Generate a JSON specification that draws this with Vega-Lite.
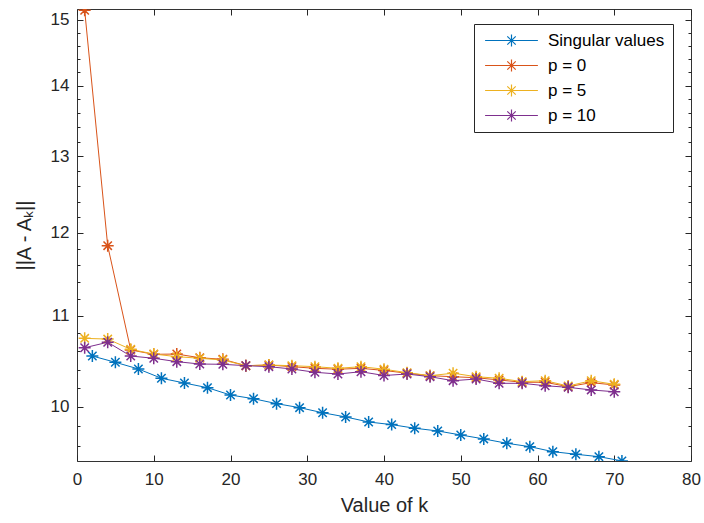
{
  "$schema": "https://vega.github.io/schema/vega-lite/v6.json",
  "width": 614,
  "height": 452,
  "autosize": "none",
  "padding": {"left": 77, "top": 9, "right": 13, "bottom": 62},
  "background": "white",
  "data": {
    "values": [
      {"k": 2, "v": 10.548, "s": "Singular values"},
      {"k": 5, "v": 10.479, "s": "Singular values"},
      {"k": 8, "v": 10.406, "s": "Singular values"},
      {"k": 11, "v": 10.305, "s": "Singular values"},
      {"k": 14, "v": 10.254, "s": "Singular values"},
      {"k": 17, "v": 10.204, "s": "Singular values"},
      {"k": 20, "v": 10.126, "s": "Singular values"},
      {"k": 23, "v": 10.087, "s": "Singular values"},
      {"k": 26, "v": 10.035, "s": "Singular values"},
      {"k": 29, "v": 9.993, "s": "Singular values"},
      {"k": 32, "v": 9.94, "s": "Singular values"},
      {"k": 35, "v": 9.896, "s": "Singular values"},
      {"k": 38, "v": 9.844, "s": "Singular values"},
      {"k": 41, "v": 9.817, "s": "Singular values"},
      {"k": 44, "v": 9.78, "s": "Singular values"},
      {"k": 47, "v": 9.752, "s": "Singular values"},
      {"k": 50, "v": 9.711, "s": "Singular values"},
      {"k": 53, "v": 9.671, "s": "Singular values"},
      {"k": 56, "v": 9.627, "s": "Singular values"},
      {"k": 59, "v": 9.593, "s": "Singular values"},
      {"k": 62, "v": 9.543, "s": "Singular values"},
      {"k": 65, "v": 9.517, "s": "Singular values"},
      {"k": 68, "v": 9.493, "s": "Singular values"},
      {"k": 71, "v": 9.451, "s": "Singular values"},
      {"k": 1, "v": 15.15, "s": "p = 0"},
      {"k": 4, "v": 11.84, "s": "p = 0"},
      {"k": 7, "v": 10.615, "s": "p = 0"},
      {"k": 10, "v": 10.567, "s": "p = 0"},
      {"k": 13, "v": 10.57, "s": "p = 0"},
      {"k": 16, "v": 10.529, "s": "p = 0"},
      {"k": 19, "v": 10.512, "s": "p = 0"},
      {"k": 22, "v": 10.442, "s": "p = 0"},
      {"k": 25, "v": 10.449, "s": "p = 0"},
      {"k": 28, "v": 10.431, "s": "p = 0"},
      {"k": 31, "v": 10.413, "s": "p = 0"},
      {"k": 34, "v": 10.403, "s": "p = 0"},
      {"k": 37, "v": 10.413, "s": "p = 0"},
      {"k": 40, "v": 10.39, "s": "p = 0"},
      {"k": 43, "v": 10.36, "s": "p = 0"},
      {"k": 46, "v": 10.333, "s": "p = 0"},
      {"k": 49, "v": 10.322, "s": "p = 0"},
      {"k": 52, "v": 10.311, "s": "p = 0"},
      {"k": 55, "v": 10.287, "s": "p = 0"},
      {"k": 58, "v": 10.262, "s": "p = 0"},
      {"k": 61, "v": 10.262, "s": "p = 0"},
      {"k": 64, "v": 10.215, "s": "p = 0"},
      {"k": 67, "v": 10.258, "s": "p = 0"},
      {"k": 70, "v": 10.233, "s": "p = 0"},
      {"k": 1, "v": 10.745, "s": "p = 5"},
      {"k": 4, "v": 10.737, "s": "p = 5"},
      {"k": 7, "v": 10.622, "s": "p = 5"},
      {"k": 10, "v": 10.57, "s": "p = 5"},
      {"k": 13, "v": 10.541, "s": "p = 5"},
      {"k": 16, "v": 10.523, "s": "p = 5"},
      {"k": 19, "v": 10.504, "s": "p = 5"},
      {"k": 22, "v": 10.442, "s": "p = 5"},
      {"k": 25, "v": 10.449, "s": "p = 5"},
      {"k": 28, "v": 10.442, "s": "p = 5"},
      {"k": 31, "v": 10.431, "s": "p = 5"},
      {"k": 34, "v": 10.413, "s": "p = 5"},
      {"k": 37, "v": 10.431, "s": "p = 5"},
      {"k": 40, "v": 10.403, "s": "p = 5"},
      {"k": 43, "v": 10.366, "s": "p = 5"},
      {"k": 46, "v": 10.333, "s": "p = 5"},
      {"k": 49, "v": 10.36, "s": "p = 5"},
      {"k": 52, "v": 10.322, "s": "p = 5"},
      {"k": 55, "v": 10.305, "s": "p = 5"},
      {"k": 58, "v": 10.269, "s": "p = 5"},
      {"k": 61, "v": 10.279, "s": "p = 5"},
      {"k": 64, "v": 10.222, "s": "p = 5"},
      {"k": 67, "v": 10.279, "s": "p = 5"},
      {"k": 70, "v": 10.24, "s": "p = 5"},
      {"k": 1, "v": 10.64, "s": "p = 10"},
      {"k": 4, "v": 10.701, "s": "p = 10"},
      {"k": 7, "v": 10.548, "s": "p = 10"},
      {"k": 10, "v": 10.523, "s": "p = 10"},
      {"k": 13, "v": 10.486, "s": "p = 10"},
      {"k": 16, "v": 10.46, "s": "p = 10"},
      {"k": 19, "v": 10.457, "s": "p = 10"},
      {"k": 22, "v": 10.442, "s": "p = 10"},
      {"k": 25, "v": 10.431, "s": "p = 10"},
      {"k": 28, "v": 10.406, "s": "p = 10"},
      {"k": 31, "v": 10.37, "s": "p = 10"},
      {"k": 34, "v": 10.351, "s": "p = 10"},
      {"k": 37, "v": 10.376, "s": "p = 10"},
      {"k": 40, "v": 10.335, "s": "p = 10"},
      {"k": 43, "v": 10.351, "s": "p = 10"},
      {"k": 46, "v": 10.322, "s": "p = 10"},
      {"k": 49, "v": 10.279, "s": "p = 10"},
      {"k": 52, "v": 10.297, "s": "p = 10"},
      {"k": 55, "v": 10.251, "s": "p = 10"},
      {"k": 58, "v": 10.251, "s": "p = 10"},
      {"k": 61, "v": 10.225, "s": "p = 10"},
      {"k": 64, "v": 10.208, "s": "p = 10"},
      {"k": 67, "v": 10.18, "s": "p = 10"},
      {"k": 70, "v": 10.161, "s": "p = 10"}
    ]
  },
  "layer": [
    {
      "mark": {"type": "line", "strokeWidth": 1, "clip": true},
      "encoding": {
        "x": {
          "field": "k", "type": "quantitative",
          "scale": {"domain": [0, 80], "nice": false},
          "axis": {
            "orient": "bottom", "title": "Value of k", "ticks": false,
            "values": [0, 10, 20, 30, 40, 50, 60, 70, 80],
            "labelPadding": 10, "labelFlush": false, "titlePadding": 8
          }
        },
        "y": {
          "field": "v", "type": "quantitative",
          "scale": {"type": "log", "domain": [9.45, 15.17], "nice": false, "zero": false},
          "axis": {
            "orient": "left", "title": "||A - Aₖ||", "ticks": false,
            "values": [10, 11, 12, 13, 14, 15], "format": "d",
            "labelPadding": 8, "labelFlush": false, "titlePadding": 16
          }
        },
        "color": {
          "field": "s", "type": "nominal",
          "scale": {
            "domain": ["Singular values", "p = 0", "p = 5", "p = 10"],
            "range": ["#0072BD", "#D95319", "#EDB120", "#7E2F8E"]
          },
          "legend": {
            "title": null, "orient": "none", "legendX": 397, "legendY": 15,
            "symbolType": "M-4.4,0L4.4,0M0,-1L0,1M-1,0L1,0M-0.7,-0.7L0.7,0.7M-0.7,0.7L0.7,-0.7",
            "symbolSize": 144, "symbolStrokeWidth": 1.2, "symbolFillColor": "transparent",
            "symbolOffset": 21, "labelOffset": 28,
            "labelFontSize": 17, "labelColor": "#000000", "labelFont": "Liberation Sans",
            "rowPadding": 7, "padding": 8,
            "strokeColor": "#262626", "fillColor": "white"
          }
        }
      }
    },
    {
      "mark": {"type": "point", "shape": "M0,-1L0,1M-1,0L1,0M-0.7,-0.7L0.7,0.7M-0.7,0.7L0.7,-0.7", "filled": false, "size": 144, "strokeWidth": 1.5, "opacity": 1, "clip": true},
      "encoding": {
        "x": {"field": "k", "type": "quantitative",
          "axis": {"orient": "top", "title": null, "labels": false,
            "values": [0, 10, 20, 30, 40, 50, 60, 70, 80], "offset": -6, "tickSize": 6}},
        "y": {"field": "v", "type": "quantitative",
          "axis": {"orient": "right", "title": null, "labels": false,
            "values": [10, 11, 12, 13, 14, 15], "offset": -6, "tickSize": 6}},
        "color": {"field": "s", "type": "nominal"}
      }
    },
    {
      "mark": {"type": "point", "opacity": 0, "clip": true},
      "encoding": {
        "x": {"field": "k", "type": "quantitative",
          "axis": {"orient": "bottom", "title": null, "labels": false,
            "values": [0, 10, 20, 30, 40, 50, 60, 70, 80], "offset": -6, "tickSize": 6}},
        "y": {"field": "v", "type": "quantitative",
          "axis": {"orient": "left", "title": null, "labels": false,
            "values": [10, 11, 12, 13, 14, 15], "offset": -6, "tickSize": 6}}
      }
    },
    {
      "mark": {"type": "point", "opacity": 0, "clip": true},
      "encoding": {
        "x": {"field": "k", "type": "quantitative", "axis": null},
        "y": {"field": "v", "type": "quantitative",
          "axis": {"orient": "left", "title": null, "labels": false,
            "values": [9.6, 9.8, 10.2, 10.4, 10.6, 10.8, 11.2, 11.4, 11.6, 11.8, 12.2, 12.4, 12.6, 12.8, 13.2, 13.4, 13.6, 13.8, 14.2, 14.4, 14.6, 14.8],
            "offset": -3, "tickSize": 3}}
      }
    },
    {
      "mark": {"type": "point", "opacity": 0, "clip": true},
      "encoding": {
        "x": {"field": "k", "type": "quantitative", "axis": null},
        "y": {"field": "v", "type": "quantitative",
          "axis": {"orient": "right", "title": null, "labels": false,
            "values": [9.6, 9.8, 10.2, 10.4, 10.6, 10.8, 11.2, 11.4, 11.6, 11.8, 12.2, 12.4, 12.6, 12.8, 13.2, 13.4, 13.6, 13.8, 14.2, 14.4, 14.6, 14.8],
            "offset": -3, "tickSize": 3}}
      }
    }
  ],
  "resolve": {"axis": {"x": "independent", "y": "independent"}},
  "config": {
    "font": "Liberation Sans",
    "view": {"stroke": "#333333", "strokeWidth": 1},
    "axis": {
      "grid": false, "domain": false,
      "tickColor": "#262626", "tickWidth": 1, "tickOpacity": 1,
      "labelFontSize": 17, "labelColor": "#262626", "labelFont": "Liberation Sans",
      "titleFontSize": 20, "titleFontWeight": "normal", "titleColor": "#262626", "titleFont": "Liberation Sans"
    }
  }
}
